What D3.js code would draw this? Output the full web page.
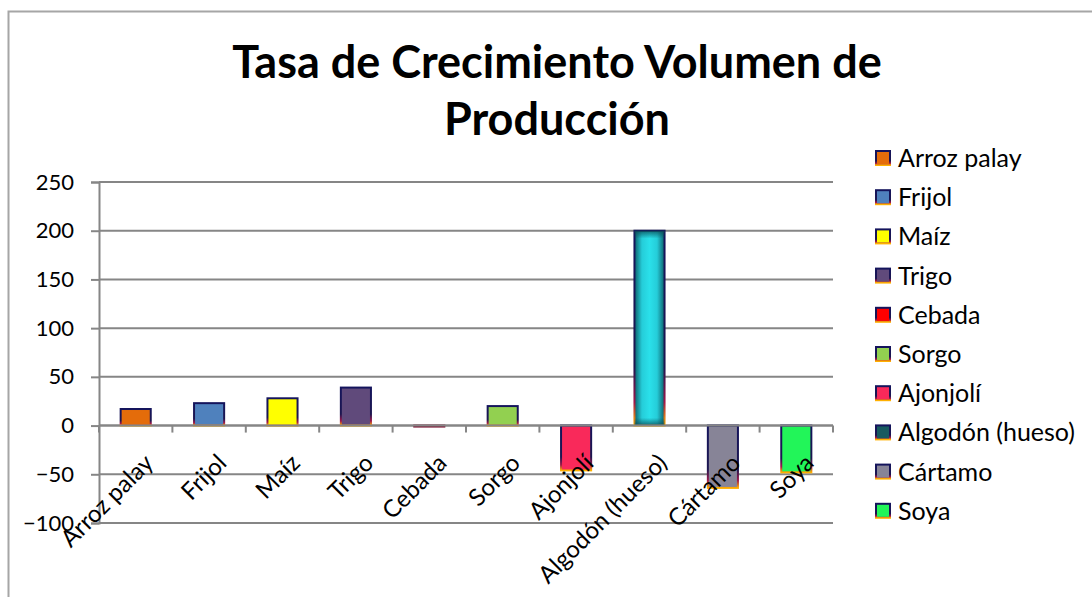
<!DOCTYPE html>
<html>
<head>
<meta charset="utf-8">
<script src="https://cdn.jsdelivr.net/npm/d3@7"></script>
<style>
  body { margin: 0; background: #fff; }
  text { font-family: Lato, "Open Sans", sans-serif; fill: #000; }
</style>
</head>
<body>
<div id="chart"></div>
<script>
// data
var cultivos = ["Arroz palay", "Frijol", "Maíz", "Trigo", "Cebada", "Sorgo", "Ajonjolí", "Algodón (hueso)", "Cártamo", "Soya"];
var tasas = [17, 23, 28, 39, -1, 20, -46, 200, -64, -48];
var colores = ["#e46c0a", "#4f81bd", "#ffff00", "#604a7b", "#ff0000", "#92d050", "#f9295a", "#2ad8e2", "#878497", "#22f559"];
var swatchColores = ["#e46c0a", "#4f81bd", "#ffff00", "#604a7b", "#ff0000", "#92d050", "#f9295a", "#175a60", "#878497", "#22f559"];
var yTicks = [-100, -50, 0, 50, 100, 150, 200, 250];
var titulo = ["Tasa de Crecimiento Volumen de", "Producción"];

var width = 1092, height = 597;
var plotLeft = 99, plotRight = 833, plotTop = 182, plotBottom = 523;

var svg = d3.select("#chart").append("svg")
    .attr("width", width)
    .attr("height", height);

var defs = svg.append("defs");

// navy edge fading to orange at the bottom, like the excel bars
var edge = defs.append("linearGradient").attr("id", "edge")
    .attr("x1", 0).attr("y1", 0).attr("x2", 0).attr("y2", 1);
edge.append("stop").attr("offset", "0%").attr("stop-color", "#14145c");
edge.append("stop").attr("offset", "70%").attr("stop-color", "#1c1650");
edge.append("stop").attr("offset", "88%").attr("stop-color", "#a0174a");
edge.append("stop").attr("offset", "100%").attr("stop-color", "#ffb000");

var cyan = defs.append("linearGradient").attr("id", "cyan")
    .attr("x1", 0).attr("y1", 0).attr("x2", 1).attr("y2", 0);
cyan.append("stop").attr("offset", "0%").attr("stop-color", "#0d5f6a");
cyan.append("stop").attr("offset", "25%").attr("stop-color", "#25cdd9");
cyan.append("stop").attr("offset", "50%").attr("stop-color", "#2ae0ea");
cyan.append("stop").attr("offset", "75%").attr("stop-color", "#25cdd9");
cyan.append("stop").attr("offset", "100%").attr("stop-color", "#0d5f6a");

var shade = defs.append("linearGradient").attr("id", "shade")
    .attr("x1", 0).attr("y1", 0).attr("x2", 0).attr("y2", 1);
shade.append("stop").attr("offset", "0%").attr("stop-color", "#0a4a55").attr("stop-opacity", 0.8);
shade.append("stop").attr("offset", "4%").attr("stop-color", "#0a4a55").attr("stop-opacity", 0);
shade.append("stop").attr("offset", "96%").attr("stop-color", "#0a4a55").attr("stop-opacity", 0);
shade.append("stop").attr("offset", "100%").attr("stop-color", "#0a4a55").attr("stop-opacity", 0.8);

// outer border (only left and top visible)
svg.append("rect")
    .attr("x", 8.5).attr("y", 11.5)
    .attr("width", 1200).attr("height", 800)
    .attr("fill", "none")
    .attr("stroke", "#a6a6a6")
    .attr("stroke-width", 2);

// title
svg.append("text")
    .attr("x", 557).attr("y", 78)
    .attr("text-anchor", "middle")
    .style("font-size", "45px").style("font-weight", "bold")
    .selectAll("tspan").data(titulo).enter().append("tspan")
    .attr("x", 557)
    .attr("dy", function(d, i) { return i === 0 ? 0 : 57; })
    .text(function(d) { return d; });

var x = d3.scaleBand()
    .domain(cultivos)
    .range([plotLeft, plotRight])
    .paddingInner(0.59)
    .paddingOuter(0.295);

var xEdges = d3.scaleLinear()
    .domain([0, cultivos.length])
    .range([plotLeft, plotRight]);

var y = d3.scaleLinear()
    .domain([-100, 250])
    .range([plotBottom, plotTop]);

// gridlines
svg.append("g").selectAll("line")
    .data(yTicks).enter().append("line")
    .attr("x1", plotLeft).attr("x2", plotRight)
    .attr("y1", function(d) { return y(d); })
    .attr("y2", function(d) { return y(d); })
    .attr("stroke", "#868686")
    .attr("stroke-width", 2);

// y axis
var yAxis = svg.append("g")
    .attr("transform", "translate(" + plotLeft + ",0)")
    .call(d3.axisLeft(y).tickValues(yTicks).tickSize(8).tickPadding(17).tickFormat(d3.format("d")));
yAxis.select(".domain").attr("stroke", "#868686").attr("stroke-width", 2);
yAxis.selectAll(".tick line").attr("stroke", "#868686").attr("stroke-width", 2);
yAxis.selectAll("text").style("font-size", "22px").style("font-family", "Lato, sans-serif").attr("fill", "#000");

// bars
svg.append("g").selectAll("rect")
    .data(tasas).enter().append("rect")
    .attr("x", function(d, i) { return x(cultivos[i]); })
    .attr("y", function(d) { return y(Math.max(0, d)); })
    .attr("width", x.bandwidth())
    .attr("height", function(d) { return Math.max(1, Math.abs(y(d) - y(0))); })
    .attr("fill", function(d, i) { return i === 7 ? "url(#cyan)" : colores[i]; })
    .attr("stroke", function(d, i) { return i === 4 ? "#7a1030" : "url(#edge)"; })
    .attr("stroke-width", 2);

// top/bottom shading on the algodón bar
svg.append("rect")
    .attr("x", x(cultivos[7]))
    .attr("y", y(tasas[7]))
    .attr("width", x.bandwidth())
    .attr("height", y(0) - y(tasas[7]))
    .attr("fill", "url(#shade)");

// x axis on zero
svg.append("line")
    .attr("x1", plotLeft).attr("x2", plotRight)
    .attr("y1", y(0)).attr("y2", y(0))
    .attr("stroke", "#868686").attr("stroke-width", 2);
svg.append("g").selectAll("line")
    .data(d3.range(cultivos.length + 1)).enter().append("line")
    .attr("x1", function(d) { return xEdges(d); })
    .attr("x2", function(d) { return xEdges(d); })
    .attr("y1", y(0)).attr("y2", y(0) + 7)
    .attr("stroke", "#868686").attr("stroke-width", 2);

// category labels, rotated
svg.append("g").selectAll("text")
    .data(cultivos).enter().append("text")
    .attr("transform", function(d) {
        return "translate(" + (x(d) + x.bandwidth() / 2 + 19) + "," + (y(0) + 39) + ") rotate(-45)";
    })
    .attr("text-anchor", "end")
    .style("font-size", "24px")
    .text(function(d) { return d; });

// legend
var legend = svg.append("g").selectAll("g")
    .data(cultivos).enter().append("g")
    .attr("transform", function(d, i) { return "translate(876," + (158 + i * 39.2) + ")"; });
legend.append("rect")
    .attr("x", 0).attr("y", -7)
    .attr("width", 14).attr("height", 14)
    .attr("fill", function(d, i) { return swatchColores[i]; })
    .attr("stroke", "url(#edge)")
    .attr("stroke-width", 2);
legend.append("text")
    .attr("x", 22).attr("dy", "0.36em")
    .style("font-size", "25px")
    .text(function(d) { return d; });
</script>
</body>
</html>
